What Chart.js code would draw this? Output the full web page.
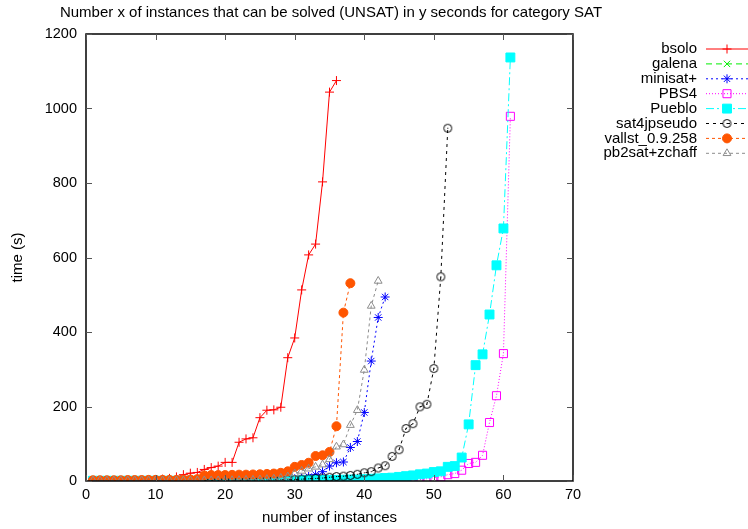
<!DOCTYPE html>
<html>
<head>
<meta charset="utf-8">
<title>SAT UNSAT instances</title>
<script src="https://cdn.jsdelivr.net/npm/chart.js@4/dist/chart.umd.min.js"></script>
<style>
    html, body { margin: 0; padding: 0; background: #fff; }
    #wrap { position: relative; width: 748px; height: 529px; }
</style>
</head>
<body>
<div id="wrap"><canvas id="satChart" width="748" height="529"></canvas></div>
<script>
// Chart data (time in seconds for the n-th solved instance)
const chartTitle = 'Number x of instances that can be solved (UNSAT) in y seconds for category SAT';
const xTicks = [0, 10, 20, 30, 40, 50, 60, 70];
const yTicks = [0, 200, 400, 600, 800, 1000, 1200];

const bsolo = [1, 1, 1, 1, 1.5, 2, 2, 2.5, 3, 4, 5, 7, 11, 17, 21, 23, 31, 36, 40, 50,
    50, 104, 113, 116, 170, 190, 191, 198, 331, 384, 513, 607, 636, 803, 1044, 1075];
const galena = [];
const minisat = [0.5, 0.5, 0.5, 0.5, 0.5, 0.5, 0.5, 1, 1, 1, 1, 1, 1, 1, 1.5, 1.5, 1.5, 1.5, 2, 2,
    2, 2, 2.5, 2.5, 3, 3, 3, 4, 5, 6, 8, 12, 17, 25, 40, 49, 51, 90, 106, 184,
    322, 439, 494];
const pbs4 = [0, 0, 0, 0, 0, 0, 0, 0, 0, 0, 0, 0, 0, 0, 0, 0, 0, 0, 0, 0,
    0, 0, 0, 0, 0, 0, 0, 0, 0, 0.5, 0.5, 0.5, 0.5, 0.5, 0.5, 1, 1, 1, 1, 1.5,
    1.5, 1.5, 2, 2, 2, 2, 2.5, 4, 6, 9, 11, 17, 20, 29, 47, 50, 69, 157, 229, 342,
    979];
const pueblo = [0.5, 0.5, 0.5, 0.5, 0.5, 0.5, 0.5, 0.5, 0.5, 0.5, 0.5, 0.5, 0.5, 0.5, 0.5, 0.5, 1, 1, 1, 1,
    1, 1, 1, 1, 1, 1, 1.5, 1.5, 1.5, 2, 2, 2, 2.5, 2.5, 3, 3, 3.5, 4, 4, 5,
    6, 7, 8, 9, 11, 13, 15, 18, 20, 24, 26, 38, 40, 63, 152, 311, 340, 447, 579, 678,
    1137];
const sat4jpseudo = [1, 1, 1, 1, 1, 1, 1, 1, 1, 1, 1, 1, 1.5, 1.5, 1.5, 1.5, 2, 2, 2, 2,
    2, 2, 2.5, 2.5, 3, 3, 3, 3.5, 4, 4, 5, 6, 7, 8, 10, 12, 13, 15, 18, 22,
    25, 35, 41, 66, 84, 141, 154, 199, 206, 302, 548, 947];
const vallst = [2, 2, 2, 2, 2, 2.5, 2.5, 2.5, 3, 3, 3, 3, 3, 3.5, 4, 5, 15, 16, 16, 16,
    16.5, 17, 17, 17.5, 18, 19, 20, 22, 26, 38, 43, 49, 67, 69, 78, 147, 452, 531];
const pb2sat = [1.5, 1.5, 1.5, 1.5, 1.5, 1.5, 1.5, 1.5, 1.5, 1.5, 1.5, 1.5, 1.5, 1.5, 1.5, 1.5, 1.5, 1.5, 1.5, 1.5,
    2, 2, 3, 3, 4, 5, 6, 8, 12, 20, 27, 33, 38, 44, 58, 92, 98, 150, 190, 298,
    470, 537];

const fontFamily = '"Liberation Sans", Arial, Helvetica, sans-serif';

// open circle with a dot in the middle (gnuplot style)
function dotCircle() {
    const c = document.createElement('canvas');
    c.width = 11; c.height = 11;
    const g = c.getContext('2d');
    g.strokeStyle = '#000';
    g.lineWidth = 1;
    g.beginPath();
    g.arc(5.5, 5.5, 4, 0, Math.PI * 2);
    g.stroke();
    g.fillStyle = '#000';
    g.fillRect(5, 5, 1, 1);
    return c;
}

function toPoints(values) {
    return values.map((v, i) => ({ x: i + 1, y: v }));
}

const seriesDefs = [
    { label: 'bsolo', values: bsolo, color: '#ff0000', dash: [], style: 'cross', radius: 4.5, fill: false },
    { label: 'galena', values: galena, color: '#00ee00', dash: [6, 4], style: 'crossRot', radius: 4.5, fill: false },
    { label: 'minisat+', values: minisat, color: '#0000ff', dash: [2, 3], style: 'star', radius: 4.5, fill: false },
    { label: 'PBS4', values: pbs4, color: '#ff00ff', dash: [1, 2], style: 'rect', radius: 5.7, fill: false },
    { label: 'Pueblo', values: pueblo, color: '#00ffff', dash: [8, 3, 2, 3], style: 'rect', radius: 6.3, fill: true },
    { label: 'sat4jpseudo', values: sat4jpseudo, color: '#000000', dash: [3, 4], style: dotCircle(), radius: 4.5, fill: false },
    { label: 'vallst_0.9.258', values: vallst, color: '#ff5500', dash: [3, 3], style: 'circle', radius: 4.5, fill: true },
    { label: 'pb2sat+zchaff', values: pb2sat, color: '#8c8c8c', dash: [3, 3], style: 'triangle', radius: 4.5, fill: false }
];

const datasets = seriesDefs.map((s, i) => ({
    label: s.label,
    data: toPoints(s.values),
    borderColor: s.color,
    backgroundColor: s.fill ? s.color : 'rgba(0,0,0,0)',
    borderWidth: 1,
    borderDash: s.dash,
    pointStyle: s.style,
    pointRadius: s.radius,
    pointBorderWidth: 1,
    pointBorderColor: s.color,
    pointBackgroundColor: s.fill ? s.color : 'rgba(0,0,0,0)',
    tension: 0,
    fill: false,
    order: seriesDefs.length - i
}));

// Frame, inward ticks, titles and the gnuplot-like key
const gnuplotDecor = {
    id: 'gnuplotDecor',
    afterDraw(chart) {
        const ctx = chart.ctx;
        const a = chart.chartArea;
        const xs = chart.scales.x;
        const ys = chart.scales.y;
        ctx.save();

        // frame
        ctx.strokeStyle = '#000';
        ctx.lineWidth = 1.5;
        ctx.setLineDash([]);
        ctx.strokeRect(a.left, a.top, a.right - a.left, a.bottom - a.top);

        // ticks on all four sides
        ctx.lineWidth = 1;
        ctx.strokeStyle = '#555';
        const tl = 6;
        ctx.beginPath();
        xTicks.forEach(t => {
            const px = Math.round(xs.getPixelForValue(t)) + 0.5;
            ctx.moveTo(px, a.bottom); ctx.lineTo(px, a.bottom - tl);
            ctx.moveTo(px, a.top); ctx.lineTo(px, a.top + tl);
        });
        yTicks.forEach(t => {
            const py = Math.round(ys.getPixelForValue(t)) + 0.5;
            ctx.moveTo(a.left, py); ctx.lineTo(a.left + tl, py);
            ctx.moveTo(a.right, py); ctx.lineTo(a.right - tl, py);
        });
        ctx.stroke();

        // tick labels
        ctx.fillStyle = '#000';
        ctx.font = '14.5px ' + fontFamily;
        ctx.textAlign = 'right';
        ctx.textBaseline = 'middle';
        yTicks.forEach(t => ctx.fillText(String(t), a.left - 9, ys.getPixelForValue(t)));
        ctx.textAlign = 'center';
        ctx.textBaseline = 'top';
        xTicks.forEach(t => ctx.fillText(String(t), xs.getPixelForValue(t), a.bottom + 7));

        // axis titles
        ctx.font = '15px ' + fontFamily;
        ctx.textBaseline = 'middle';
        ctx.fillText('number of instances', (a.left + a.right) / 2, 518);
        ctx.save();
        ctx.translate(18, (a.top + a.bottom) / 2);
        ctx.rotate(-Math.PI / 2);
        ctx.fillText('time (s)', 0, 0);
        ctx.restore();

        // title
        ctx.fillText(chartTitle, 331, 13);

        // key
        seriesDefs.forEach((s, i) => {
            const y = 49 + i * 14.9;
            ctx.fillStyle = '#000';
            ctx.textAlign = 'right';
            ctx.fillText(s.label, 697, y);
            ctx.strokeStyle = s.color;
            ctx.lineWidth = 1;
            ctx.setLineDash(s.dash);
            ctx.beginPath();
            ctx.moveTo(706, y);
            ctx.lineTo(748, y);
            ctx.stroke();
            ctx.setLineDash([]);
            ctx.fillStyle = s.fill ? s.color : 'rgba(0,0,0,0)';
            Chart.helpers.drawPoint(ctx, {
                pointStyle: s.style,
                radius: s.radius,
                rotation: 0,
                borderWidth: 1
            }, 727, y);
        });

        ctx.restore();
    }
};

const ctx = document.getElementById('satChart').getContext('2d');
const satChart = new Chart(ctx, {
    type: 'line',
    data: { datasets: datasets },
    options: {
        responsive: false,
        animation: false,
        layout: { padding: { top: 34, right: 175, bottom: 0, left: 0 } },
        plugins: {
            legend: { display: false },
            title: { display: false },
            tooltip: { enabled: false }
        },
        scales: {
            x: {
                type: 'linear',
                min: 0,
                max: 70,
                ticks: { display: false, stepSize: 10 },
                grid: { display: false },
                border: { display: false },
                afterFit(scale) { scale.height = 48; }
            },
            y: {
                type: 'linear',
                min: 0,
                max: 1200,
                ticks: { display: false, stepSize: 200 },
                grid: { display: false },
                border: { display: false },
                afterFit(scale) { scale.width = 86; }
            }
        }
    },
    plugins: [gnuplotDecor]
});
</script>
</body>
</html>
